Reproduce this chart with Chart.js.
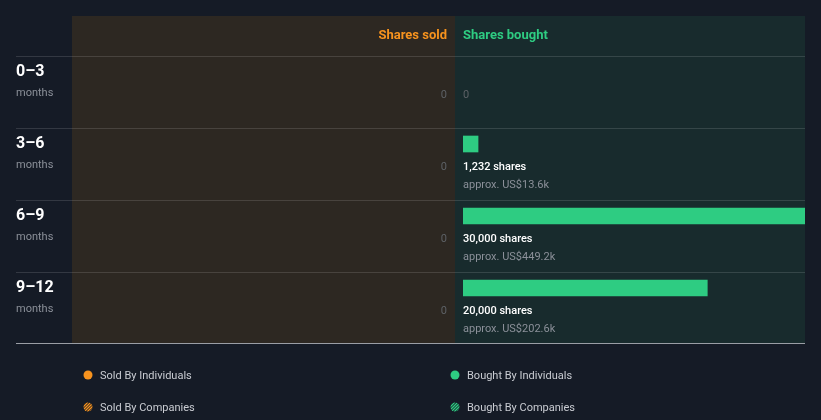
<!DOCTYPE html>
<html><head><meta charset="utf-8">
<script src="https://cdn.jsdelivr.net/npm/chart.js@4/dist/chart.umd.min.js"></script>
<style>html,body{margin:0;padding:0;background:#151b26;}canvas{display:block;}</style>
</head><body>
<canvas id="c" width="821" height="420"></canvas>
<script>
const categories = ['0\u20133', '3\u20136', '6\u20139', '9\u201312'];
const periodUnit = 'months';
const soldShares = [0, 0, 0, 0];
const boughtShares = [0, 1232, 30000, 20000];
const boughtValueUSDk = [0, 13.6, 449.2, 202.6];
const xMax = 28000;
const legendItems = ['Sold By Individuals', 'Sold By Companies', 'Bought By Individuals', 'Bought By Companies'];

const C = {
  bg: '#151b26', sold: '#2d2822', bought: '#182b2d', orange: '#f7931e', green: '#2ecc82',
  white: '#ffffff', gray: '#8b9099', dim: '#5d6166', line: 'rgba(255,255,255,0.13)', bottom: '#9a9ea5', legend: '#c9ccd2'
};
const FONT = 'Roboto, "Open Sans", sans-serif';
const L = { left: 16, soldL: 72, mid: 455, right: 805, top: 16, head: 56, bottom: 343 };

function txt(ctx, s, x, y, font, color, align) {
  ctx.font = font; ctx.fillStyle = color; ctx.textAlign = align || 'left'; ctx.textBaseline = 'middle';
  ctx.fillText(s, x, y + 1);
}

const panels = {
  id: 'panels',
  beforeDraw(chart) {
    const ctx = chart.ctx;
    ctx.save();
    ctx.fillStyle = C.bg; ctx.fillRect(0, 0, chart.width, chart.height);
    ctx.fillStyle = C.sold; ctx.fillRect(L.soldL, L.top, L.mid - L.soldL, L.bottom - L.top);
    ctx.fillStyle = C.bought; ctx.fillRect(L.mid, L.top, L.right - L.mid, L.bottom - L.top);
    txt(ctx, 'Shares sold', L.mid - 8, 35, 'bold 13px ' + FONT, C.orange, 'right');
    txt(ctx, 'Shares bought', L.mid + 8, 35, 'bold 13px ' + FONT, C.green, 'left');
    const ys = chart.scales.y;
    ctx.fillStyle = C.line;
    categories.forEach((c, i) => {
      const top = Math.round(ys.getPixelForValue(i)) - 16;
      ctx.fillRect(L.left, top, L.right - L.left, 1);
    });
    ctx.fillStyle = C.bottom;
    ctx.fillRect(L.left, L.bottom, L.right - L.left, 1);
    ctx.restore();
  },
  afterDatasetsDraw(chart) {
    const ctx = chart.ctx;
    const ys = chart.scales.y;
    ctx.save();
    categories.forEach((c, i) => {
      const top = Math.round(ys.getPixelForValue(i)) - 16;
      txt(ctx, c, L.left, top + 15, 'bold 16px ' + FONT, C.white);
      txt(ctx, periodUnit, L.left, top + 36, '11px ' + FONT, C.gray);
      txt(ctx, soldShares[i].toLocaleString('en-US'), L.mid - 8, top + 38, '11px ' + FONT, C.dim, 'right');
      if (boughtShares[i] === 0) {
        txt(ctx, '0', L.mid + 8, top + 38, '11px ' + FONT, C.dim);
      } else {
        txt(ctx, boughtShares[i].toLocaleString('en-US') + ' shares', L.mid + 8, top + 38, '500 11px ' + FONT, C.white);
        txt(ctx, 'approx. US$' + boughtValueUSDk[i] + 'k', L.mid + 8, top + 56, '11px ' + FONT, C.gray);
      }
    });
    // legend
    const pos = [[88, 375], [88, 407], [455, 375], [455, 407]];
    legendItems.forEach((s, k) => {
      const [x, y] = pos[k];
      const col = k < 2 ? C.orange : C.green;
      if (k % 2 === 0) {
        ctx.fillStyle = col; ctx.beginPath(); ctx.arc(x, y, 4.5, 0, Math.PI * 2); ctx.fill();
      } else {
        ctx.save(); ctx.beginPath(); ctx.arc(x, y, 4.5, 0, Math.PI * 2); ctx.clip();
        ctx.strokeStyle = col; ctx.lineWidth = 1.3;
        for (let d = -8; d <= 8; d += 3) { ctx.beginPath(); ctx.moveTo(x + d - 5, y + 5); ctx.lineTo(x + d + 5, y - 5); ctx.stroke(); }
        ctx.restore();
      }
      txt(ctx, s, x + 12, y, '11px ' + FONT, C.legend);
    });
    ctx.restore();
  }
};

new Chart(document.getElementById('c'), {
  type: 'bar',
  data: {
    labels: categories,
    datasets: [{ label: 'Bought By Individuals', data: boughtShares.map(v => v === 0 ? null : v), backgroundColor: C.green, barThickness: 16, borderWidth: 0, skipNull: true }]
  },
  options: {
    indexAxis: 'y', responsive: false, animation: false, devicePixelRatio: 1,
    layout: { padding: { left: 463, right: 16, top: 36, bottom: 96 } },
    scales: {
      x: { display: false, min: 0, max: xMax },
      y: { display: false, offset: true }
    },
    plugins: { legend: { display: false }, tooltip: { enabled: false } }
  },
  plugins: [panels]
});
</script>
</body></html>
